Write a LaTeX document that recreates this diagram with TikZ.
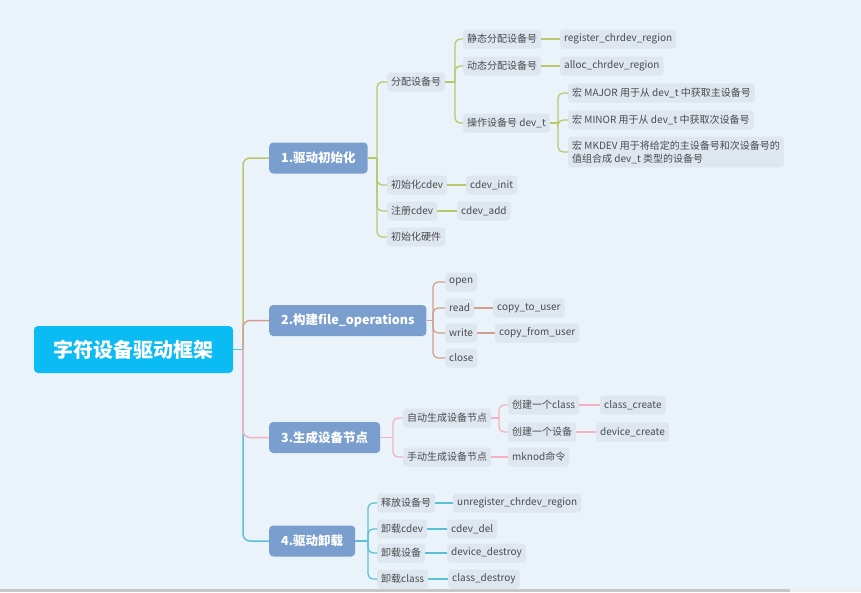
\documentclass[tikz,border=0pt]{standalone}
\usepackage{fontspec}
\newfontfamily\cjk{Noto Sans CJK SC}
\definecolor{bgc}{HTML}{EAF3F9}
\definecolor{rootc}{HTML}{0BBBF3}
\definecolor{topc}{HTML}{7A9FCE}
\definecolor{leafc}{HTML}{DEE7F0}
\definecolor{textc}{HTML}{4A4A4A}
\definecolor{lgreen}{HTML}{BCC56C}
\definecolor{lbrown}{HTML}{D49E8E}
\definecolor{lpink}{HTML}{F6B0C2}
\definecolor{lteal}{HTML}{5BBFD6}
\tikzset{
  rootbox/.style={fill=rootc, rounded corners=4pt, text=white, font=\cjk\bfseries\fontsize{20}{24}\selectfont, minimum width=199pt, minimum height=47pt, inner sep=0pt},
  topic/.style={fill=topc, rounded corners=4pt, text=white, font=\cjk\bfseries\fontsize{12.5}{15}\selectfont, minimum height=31pt, inner xsep=12pt, anchor=west},
  leaf/.style={fill=leafc, rounded corners=3pt, text=textc, font=\cjk\fontsize{10}{13}\selectfont, minimum height=19pt, inner xsep=4pt, inner ysep=3pt, anchor=west},
  conn/.style={line width=1.2pt, rounded corners=5pt},
  trunk/.style={line width=1.5pt, rounded corners=7pt},
}
\begin{document}
\begin{tikzpicture}[x=1pt,y=-1pt]
\fill[bgc] (0,0) rectangle (861,592);
\fill[black!22] (0,589) rectangle (790,592);
\fill[black!7] (790,589) rectangle (861,592);
\useasboundingbox (0,0) rectangle (861,592);

% root and topics
\node[rootbox] (root) at (133.5,349.5) {字符设备驱动框架};
\node[topic] (t1) at (269,158) {1.驱动初始化};
\node[topic] (t2) at (269,320.5) {2.构建file\_operations};
\node[topic] (t3) at (269,437.5) {3.生成设备节点};
\node[topic] (t4) at (269,541) {4.驱动卸载};

% branch 1
\node[leaf] (a1) at (387,82) {分配设备号};
\node[leaf] (a2) at (387,185) {初始化cdev};
\node[leaf] (a3) at (387,211) {注册cdev};
\node[leaf] (a4) at (387,237) {初始化硬件};
\node[leaf] (b1) at (463,39) {静态分配设备号};
\node[leaf] (b2) at (463,66) {动态分配设备号};
\node[leaf] (b3) at (463,123) {操作设备号 dev\_t};
\node[leaf] (r1) at (560,39) {register\_chrdev\_region};
\node[leaf] (r2) at (560,66) {alloc\_chrdev\_region};
\node[leaf] (ci) at (466,185) {cdev\_init};
\node[leaf] (ca) at (457,211) {cdev\_add};
\node[leaf] (m1) at (568,93) {宏 MAJOR 用于从 dev\_t 中获取主设备号};
\node[leaf] (m2) at (568,120) {宏 MINOR 用于从 dev\_t 中获取次设备号};
\node[leaf, align=left, inner ysep=4pt] (m3) at (568,152) {宏 MKDEV 用于将给定的主设备号和次设备号的\\值组合成 dev\_t 类型的设备号};

% branch 2
\node[leaf] (o1) at (445,282) {open};
\node[leaf] (o2) at (445,308) {read};
\node[leaf] (o3) at (445,333) {write};
\node[leaf] (o4) at (445,358) {close};
\node[leaf] (ctu) at (493,308) {copy\_to\_user};
\node[leaf] (cfu) at (495,333) {copy\_from\_user};

% branch 3
\node[leaf] (s1) at (403,418) {自动生成设备节点};
\node[leaf] (s2) at (403,457) {手动生成设备节点};
\node[leaf] (c1) at (508,405) {创建一个class};
\node[leaf] (c2) at (508,432) {创建一个设备};
\node[leaf] (cc) at (600,405) {class\_create};
\node[leaf] (dc) at (596,432) {device\_create};
\node[leaf] (mk) at (508,457) {mknod命令};

% branch 4
\node[leaf] (u1) at (377,503) {释放设备号};
\node[leaf] (u2) at (377,529) {卸载cdev};
\node[leaf] (u3) at (377,553) {卸载设备};
\node[leaf] (u4) at (377,579) {卸载class};
\node[leaf] (ur) at (453,503) {unregister\_chrdev\_region};
\node[leaf] (cd) at (447,529) {cdev\_del};
\node[leaf] (dd) at (447,553) {device\_destroy};
\node[leaf] (cld) at (448,579) {class\_destroy};

% junctions
\coordinate (jr) at (243,349.5);
\coordinate (j1) at (377,158);
\coordinate (ja) at (455,82);
\coordinate (jb) at (558,123);
\coordinate (j2) at (433,320.5);
\coordinate (j3) at (393,437.5);
\coordinate (js) at (499,418);
\coordinate (j4) at (368,541);

% trunk connectors
\draw[trunk, lteal] (root.east) -- (jr);
\draw[trunk, lgreen] (jr) |- (t1.west);
\draw[trunk, lbrown] (jr) |- (t2.west);
\draw[trunk, lteal] (jr) |- (t4.west);
\draw[trunk, lpink] (jr) |- (t3.west);

% branch 1 connectors
\begin{scope}[conn, lgreen]
\draw (t1.east) -- (j1);
\foreach \c in {a1,a2,a3,a4} \draw (j1) |- (\c.west);
\draw (a1.east) -- (ja);
\foreach \c in {b1,b2,b3} \draw (ja) |- (\c.west);
\draw (b1.east) -- (r1.west);
\draw (b2.east) -- (r2.west);
\draw (a2.east) -- (ci.west);
\draw (a3.east) -- (ca.west);
\draw (b3.east) -- (jb);
\foreach \c in {m1,m2,m3} \draw (jb) |- (\c.west);
\end{scope}

% branch 2 connectors
\begin{scope}[conn, lbrown]
\draw (t2.east) -- (j2);
\foreach \c in {o1,o2,o3,o4} \draw (j2) |- (\c.west);
\draw (o2.east) -- (ctu.west);
\draw (o3.east) -- (cfu.west);
\end{scope}

% branch 3 connectors
\begin{scope}[conn, lpink]
\draw (t3.east) -- (j3);
\foreach \c in {s1,s2} \draw (j3) |- (\c.west);
\draw (s1.east) -- (js);
\foreach \c in {c1,c2} \draw (js) |- (\c.west);
\draw (c1.east) -- (cc.west);
\draw (c2.east) -- (dc.west);
\draw (s2.east) -- (mk.west);
\end{scope}

% branch 4 connectors
\begin{scope}[conn, lteal]
\draw (t4.east) -- (j4);
\foreach \c in {u1,u2,u3,u4} \draw (j4) |- (\c.west);
\draw (u1.east) -- (ur.west);
\draw (u2.east) -- (cd.west);
\draw (u3.east) -- (dd.west);
\draw (u4.east) -- (cld.west);
\end{scope}
\end{tikzpicture}
\end{document}
